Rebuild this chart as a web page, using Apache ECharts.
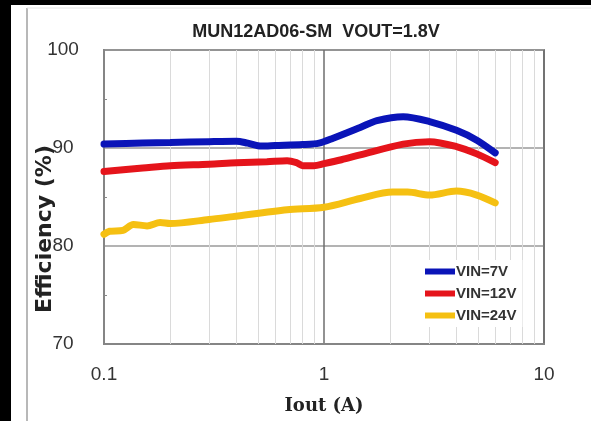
<!DOCTYPE html>
<html>
<head>
<meta charset="utf-8">
<script src="https://cdn.jsdelivr.net/npm/echarts@6/dist/echarts.min.js"></script>
<style>
  html, body { margin: 0; padding: 0; background: #fff; }
  #chart { width: 591px; height: 421px; }
</style>
</head>
<body>
<div id="chart"></div>
<script>
// efficiency curves
const iout7 = [0.1, 0.15, 0.2, 0.3, 0.4, 0.45, 0.52, 0.6, 0.8, 0.95, 1.1, 1.46, 1.74, 2.29, 3.02, 4.0, 4.95, 6.0];
const eff7 = [90.4, 90.5, 90.55, 90.65, 90.7, 90.5, 90.2, 90.25, 90.35, 90.5, 91.0, 92.1, 92.8, 93.2, 92.7, 91.8, 90.8, 89.5];

const iout12 = [0.1, 0.15, 0.2, 0.3, 0.4, 0.55, 0.68, 0.75, 0.8, 0.9, 1.0, 1.2, 1.46, 2.29, 3.02, 4.0, 4.95, 6.0];
const eff12 = [87.6, 87.95, 88.2, 88.35, 88.5, 88.6, 88.7, 88.5, 88.2, 88.2, 88.4, 88.8, 89.3, 90.4, 90.65, 90.15, 89.4, 88.5];

const iout24 = [0.1, 0.106, 0.122, 0.136, 0.157, 0.18, 0.2, 0.3, 0.385, 0.68, 1.0, 1.46, 2.05, 2.4, 3.02, 4.0, 4.95, 6.0];
const eff24 = [81.2, 81.5, 81.6, 82.2, 82.05, 82.4, 82.3, 82.7, 83.0, 83.7, 83.95, 84.85, 85.5, 85.5, 85.2, 85.6, 85.2, 84.4];

const seriesNames = ['VIN=7V', 'VIN=12V', 'VIN=24V'];
const minorX = [0.2, 0.3, 0.4, 0.5, 0.6, 0.7, 0.8, 0.9, 2, 3, 4, 5, 6, 7, 8, 9];

const zip = (xs, ys) => xs.map((x, i) => [x, ys[i]]);

const chart = echarts.init(document.getElementById('chart'));

const lineSeries = (name, data, color) => ({
  name: name,
  type: 'line',
  data: data,
  smooth: 0.3,
  showSymbol: false,
  z: 3,
  itemStyle: { color: color },
  lineStyle: { color: color, width: 7, cap: 'round' }
});

const option = {
  backgroundColor: '#fff',
  animation: false,
  title: {
    text: 'MUN12AD06-SM  VOUT=1.8V',
    left: 311,
    textAlign: 'center',
    top: 18,
    textStyle: { fontFamily: 'Liberation Sans', fontWeight: 'bold', fontSize: 18, color: '#222' }
  },
  grid: {
    left: 104, top: 50, right: 47, bottom: 77,
    show: true, backgroundColor: '#fff',
    borderColor: '#858585', borderWidth: 2
  },
  legend: {
    orient: 'vertical',
    left: 419, top: 260,
    padding: [4, 6],
    itemGap: 7,
    itemWidth: 30, itemHeight: 6,
    icon: 'rect',
    backgroundColor: '#fff',
    data: seriesNames,
    textStyle: { fontFamily: 'Liberation Sans', fontWeight: 'bold', fontSize: 15, color: '#333', padding: [0, 0, 0, -4] }
  },
  xAxis: {
    type: 'log',
    logBase: 10,
    min: 0.1,
    max: 10,
    name: 'Iout (A)',
    nameLocation: 'middle',
    nameGap: 53,
    nameTextStyle: { fontFamily: 'DejaVu Serif', fontWeight: 'bold', fontSize: 18, color: '#222' },
    axisLine: { lineStyle: { color: '#858585', width: 2 } },
    axisTick: { show: false },
    axisLabel: { margin: 21, fontFamily: 'Liberation Sans', fontSize: 19, color: '#333' },
    splitLine: { show: true, lineStyle: { color: '#6e6e6e', width: 1.5 } }
  },
  yAxis: {
    type: 'value',
    min: 70,
    max: 100,
    interval: 10,
    axisLine: { show: true, lineStyle: { color: '#858585', width: 2 } },
    axisTick: { show: true, inside: true, length: 0 },
    minorTick: { show: true, splitNumber: 2, length: 3, lineStyle: { color: '#888' } },
    axisLabel: { align: 'center', margin: 41, fontFamily: 'Liberation Sans', fontSize: 19, color: '#333' },
    splitLine: { show: true, lineStyle: { color: '#9a9a9a', width: 1.5 } }
  },
  graphic: [
    { type: 'rect', shape: { x: 0, y: 0, width: 591, height: 5 }, style: { fill: '#000' } },
    { type: 'rect', shape: { x: 0, y: 0, width: 11, height: 421 }, style: { fill: '#000' } },
    { type: 'line', shape: { x1: 27, y1: 8, x2: 27, y2: 421 }, style: { stroke: '#a0a0a0', lineWidth: 1.5 } },
    { type: 'line', shape: { x1: 27, y1: 8, x2: 591, y2: 8 }, style: { stroke: '#e4e4e4', lineWidth: 1 } },
    {
      type: 'text', x: 45, y: 229, rotation: Math.PI / 2,
      style: {
        text: 'Efficiency (%)', fontFamily: 'DejaVu Sans', fontWeight: 'bold', fontSize: 22,
        fill: '#222', align: 'center', verticalAlign: 'middle'
      }
    }
  ],
  series: [
    lineSeries(seriesNames[0], zip(iout7, eff7), '#0a14b8'),
    lineSeries(seriesNames[1], zip(iout12, eff12), '#e5141b'),
    lineSeries(seriesNames[2], zip(iout24, eff24), '#f5c012'),
    {
      // minor vertical grid lines of the log axis
      type: 'line',
      data: [],
      silent: true,
      markLine: {
        z: 1,
        silent: true,
        symbol: 'none',
        label: { show: false },
        lineStyle: { color: '#dadada', width: 1, type: 'solid' },
        data: minorX.map(v => ({ xAxis: v }))
      }
    }
  ]
};

chart.setOption(option);
</script>
</body>
</html>
